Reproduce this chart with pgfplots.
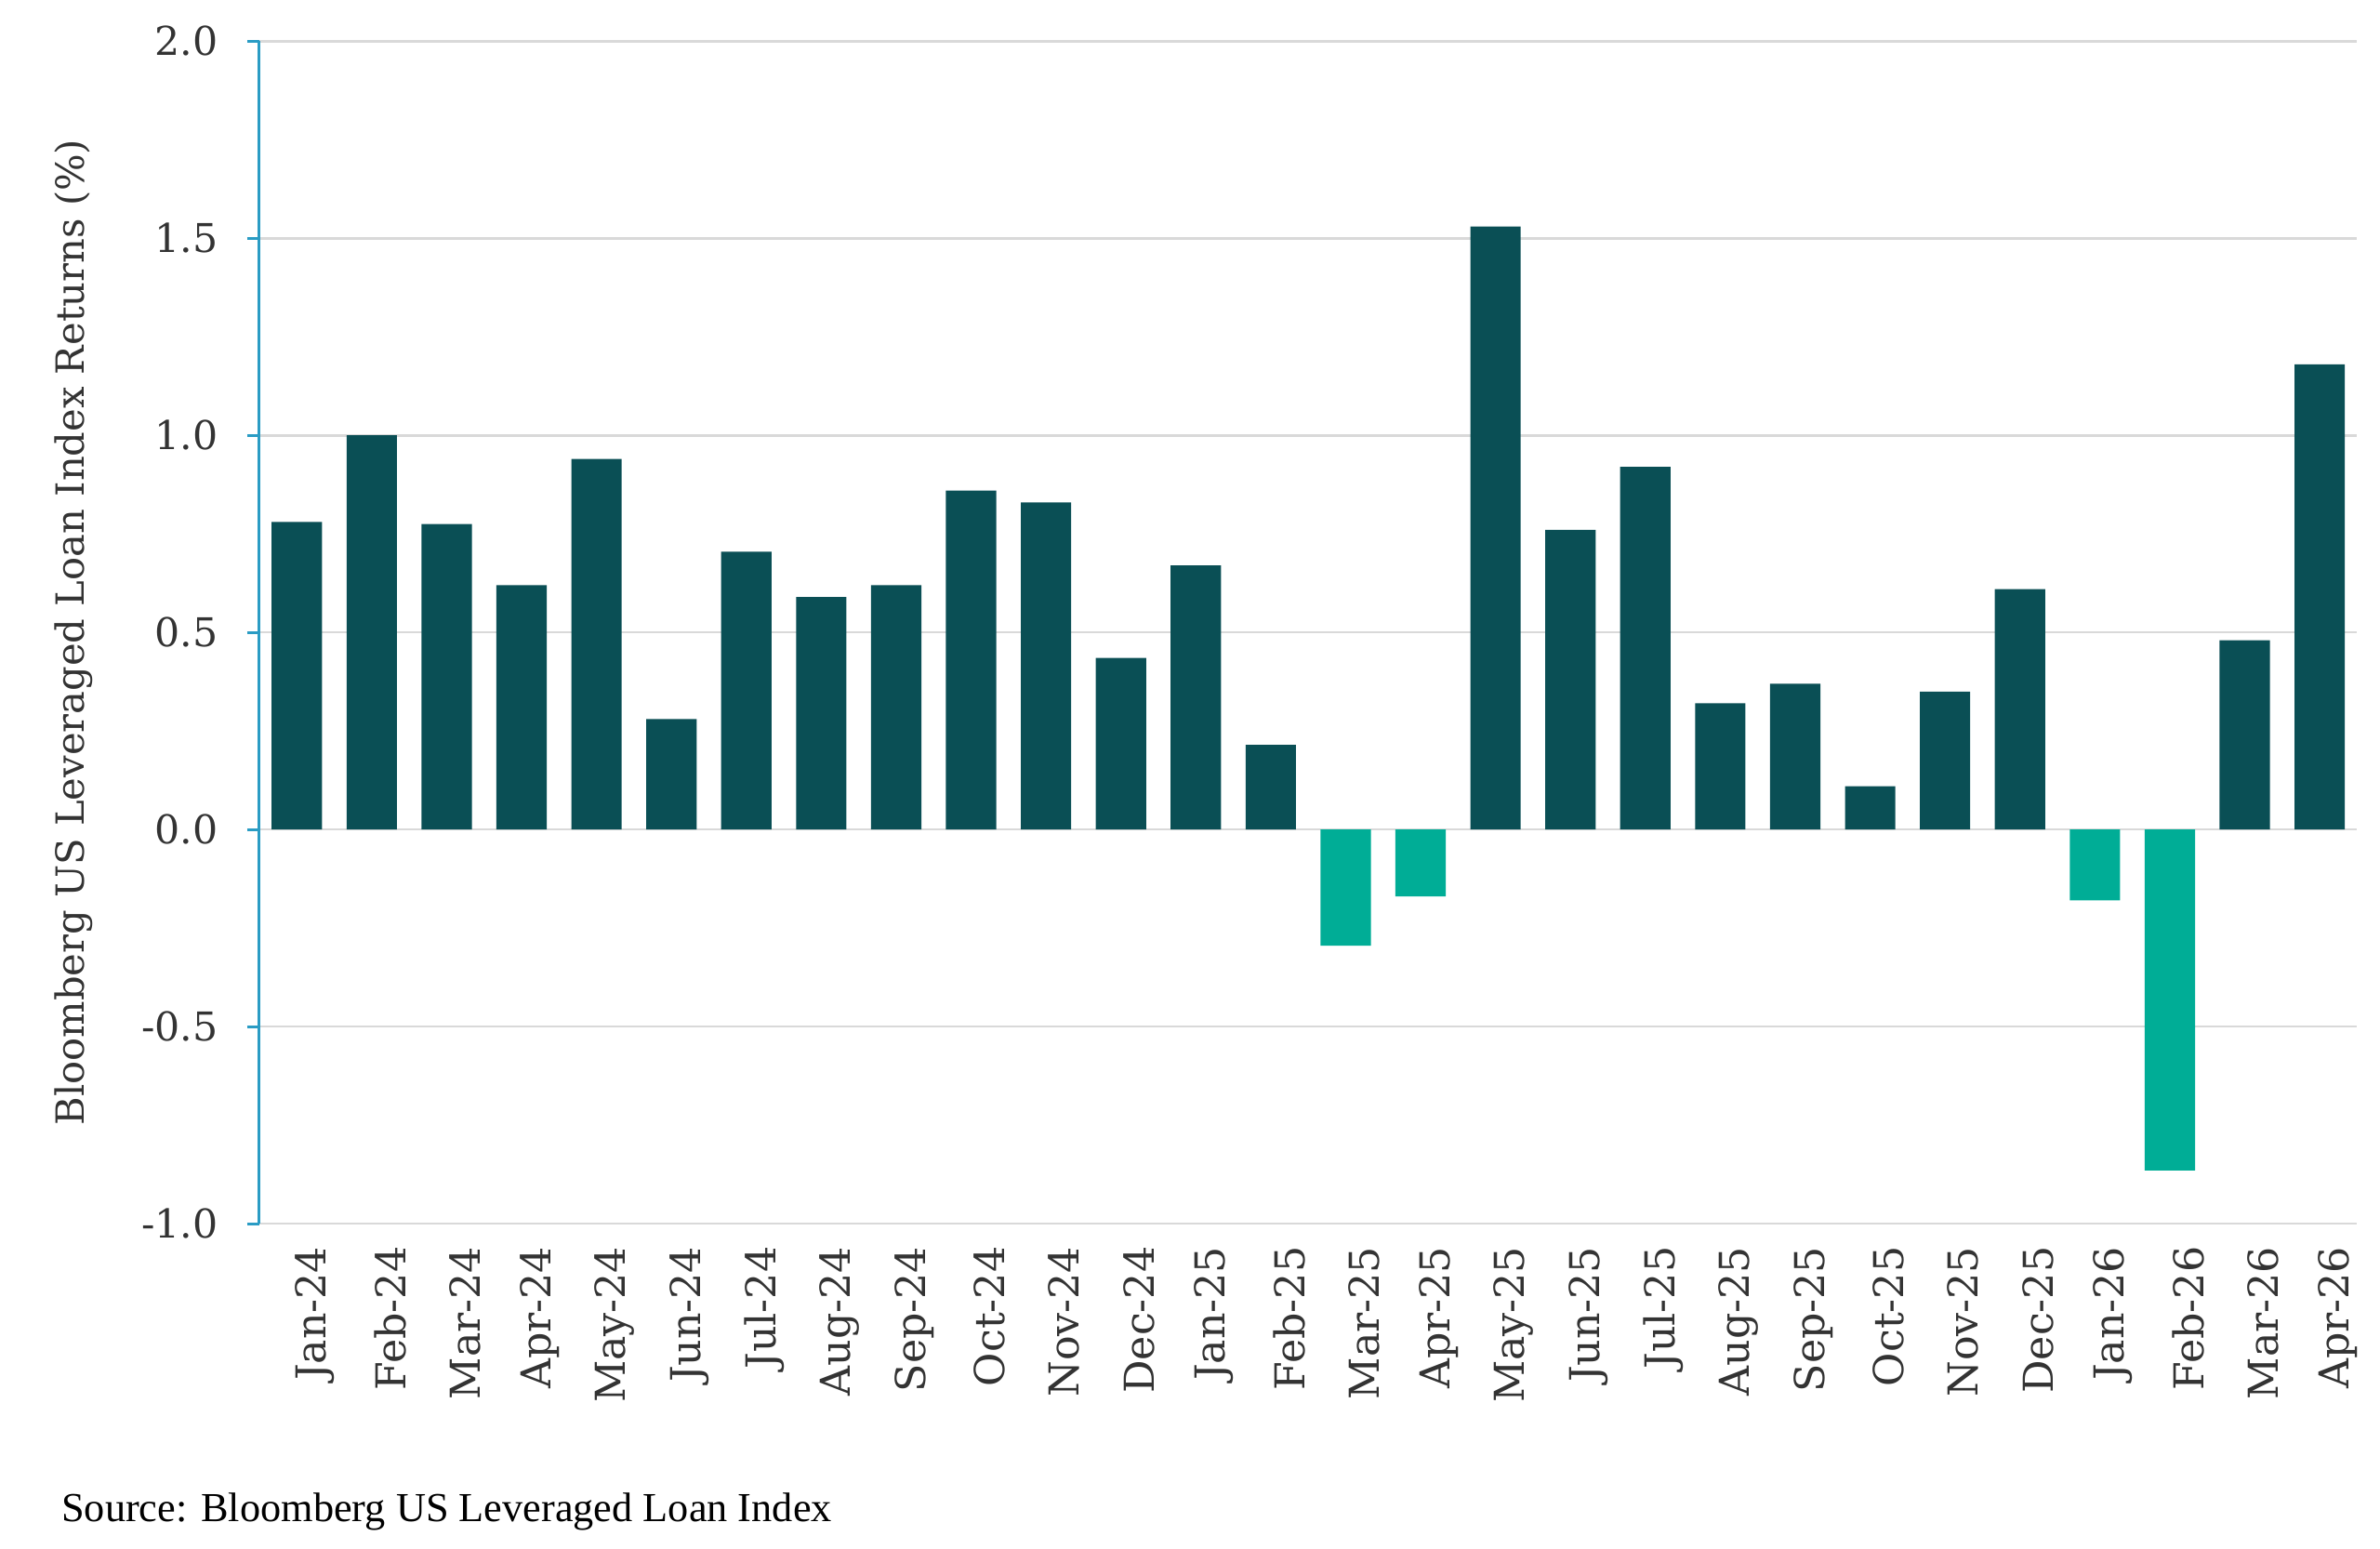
\documentclass[border=0pt]{standalone}
\usepackage{pgfplots}
\pgfplotsset{compat=1.18}
\usepackage{pgfplotstable}
\usepackage{fontspec}
\setmainfont{DejaVu Serif}
\newfontfamily\srcfont{Liberation Serif}
\definecolor{darkteal}{HTML}{0A4F55}
\definecolor{lightteal}{HTML}{00AD96}
\definecolor{axisblue}{HTML}{2A9CC4}
\definecolor{gridgray}{HTML}{D9D9D9}
\definecolor{txt}{HTML}{333333}

\pgfplotstableread{
x y
0 0.78
1 1.00
2 0.775
3 0.62
4 0.94
5 0.28
6 0.705
7 0.59
8 0.62
9 0.86
10 0.83
11 0.435
12 0.67
13 0.215
16 1.53
17 0.76
18 0.92
19 0.32
20 0.37
21 0.11
22 0.35
23 0.61
26 0.48
27 1.18
}\pos
\pgfplotstableread{
x y
14 -0.295
15 -0.17
24 -0.18
25 -0.865
}\negv

\begin{document}
\begin{tikzpicture}
\useasboundingbox (0,0) rectangle (780pt,507.5pt);
\begin{axis}[
  at={(85pt,106.5pt)}, anchor=south west,
  scale only axis, width=687.5pt, height=387.5pt,
  xmin=-0.5, xmax=27.5,
  ymin=-1, ymax=2,
  ytick={-1,-0.5,0,0.5,1,1.5,2},
  yticklabels={-1.0,-0.5,0.0,0.5,1.0,1.5,2.0},
  xtick={0,...,27},
  xticklabels={Jan-24,Feb-24,Mar-24,Apr-24,May-24,Jun-24,Jul-24,Aug-24,Sep-24,Oct-24,Nov-24,Dec-24,Jan-25,Feb-25,Mar-25,Apr-25,May-25,Jun-25,Jul-25,Aug-25,Sep-25,Oct-25,Nov-25,Dec-25,Jan-26,Feb-26,Mar-26,Apr-26},
  axis y line*=left,
  axis x line*=bottom,
  x axis line style={draw=none},
  y axis line style={draw=axisblue, line width=0.9pt, -},
  ymajorgrids, grid style={gridgray, line width=0.8pt},
  major x tick style={draw=none},
  major y tick style={draw=axisblue, line width=0.9pt},
  tick align=outside, major tick length=4pt,
  yticklabel style={font=\fontsize{13}{13}\selectfont, text=txt, xshift=-6pt},
  xticklabel style={font=\fontsize{13.5}{13.5}\selectfont, text=txt, rotate=90, anchor=east, yshift=-6pt},
  ylabel={Bloomberg US Leveraged Loan Index Returns (\%)},
  ylabel style={font=\fontsize{12.7}{12.7}\selectfont, text=txt, at={(axis description cs:-0.0887,0.5)}, anchor=center},
  ybar, bar width=16.5pt, bar shift=0pt,
  clip=false,
]
\addplot[fill=darkteal, draw=none] table[x=x,y=y] {\pos};
\addplot[fill=lightteal, draw=none] table[x=x,y=y] {\negv};
\end{axis}
\node[anchor=base west, font=\srcfont\fontsize{13.5}{13.5}\selectfont, text=black, inner sep=0pt] at (20pt,9pt) {Source: Bloomberg US Leveraged Loan Index};
\end{tikzpicture}
\end{document}
